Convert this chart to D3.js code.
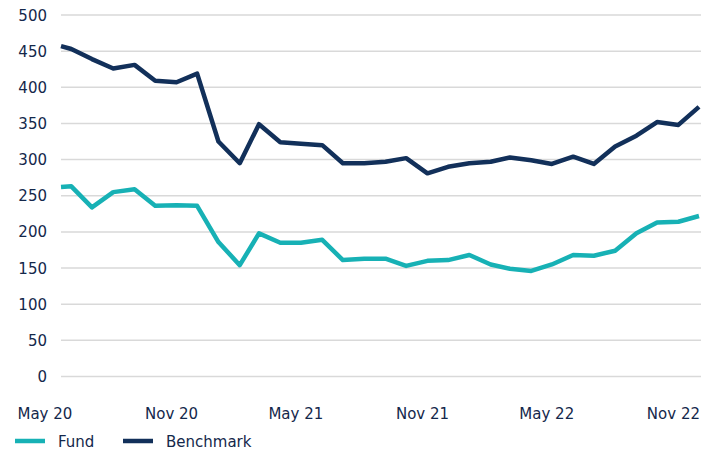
<!DOCTYPE html>
<html>
<head>
<meta charset="utf-8">
<script src="https://cdn.jsdelivr.net/npm/d3@7"></script>
<style>
    body { margin: 0; background: #fff; }
    .drawingboard text { font-family: "DejaVu Sans", sans-serif; font-size: 15px; fill: #14284b; }
</style>
</head>
<body>
<div class="drawingboard"></div>
<script>
// first point is the launch date, then month ends May 20 .. Nov 22
var dates = [new Date(2020, 4, 16)];
for (var k = 0; k <= 30; k++) dates.push(new Date(2020, 5 + k, 0));

var benchmark = [457, 453, 439, 426, 431, 409, 407, 419, 325, 295, 349, 324, 322, 320, 295, 295,
    297, 302, 281, 290, 295, 297, 303, 299, 294, 304, 294, 318, 333, 352, 348, 373];
var fund = [262, 263, 234, 255, 259, 236, 237, 236, 186, 154, 198, 185, 185, 189, 161, 163,
    163, 153, 160, 161, 168, 155, 149, 146, 155, 168, 167, 174, 198, 213, 214, 222];

var yTicks = [0, 50, 100, 150, 200, 250, 300, 350, 400, 450, 500];
var xTickDates = [new Date(2020, 5, 0), new Date(2020, 11, 0), new Date(2021, 5, 0),
    new Date(2021, 11, 0), new Date(2022, 5, 0), new Date(2022, 11, 0)];
var xTickLabels = ["May 20", "Nov 20", "May 21", "Nov 21", "May 22", "Nov 22"];

var seriesNames = ["Fund", "Benchmark"];
var colors = ["#17b1b5", "#12305a"];

var width = 713;
var height = 453;

var svg = d3.select(".drawingboard")
    .append("svg")
    .attr("width", width)
    .attr("height", height);

var x = d3.scaleTime()
    .domain([dates[0], dates[dates.length - 1]])
    .range([61, 699]);

var y = d3.scaleLinear()
    .domain([0, 500])
    .range([376.5, 15]);

// gridlines + y labels
svg.append("g")
    .selectAll("line")
    .data(yTicks)
    .enter().append("line")
    .attr("x1", 61)
    .attr("x2", 701)
    .attr("y1", function (d) { return y(d); })
    .attr("y2", function (d) { return y(d); })
    .style("stroke", "#d9d9d9")
    .style("stroke-width", 1.5);

svg.append("g")
    .selectAll("text")
    .data(yTicks)
    .enter().append("text")
    .attr("x", 47)
    .attr("y", function (d) { return y(d); })
    .attr("dy", 5.5)
    .style("text-anchor", "end")
    .text(function (d) { return d; });

// x labels sit right-aligned on their month-end point
svg.append("g")
    .selectAll("text")
    .data(xTickDates)
    .enter().append("text")
    .attr("x", function (d) { return x(d) + 1; })
    .attr("y", 419)
    .style("text-anchor", "end")
    .text(function (d, i) { return xTickLabels[i]; });

var line = d3.line()
    .x(function (d, i) { return x(dates[i]); })
    .y(function (d) { return y(d); });

[fund, benchmark].forEach(function (values, i) {
    svg.append("path")
        .datum(values)
        .attr("d", line)
        .style("fill", "none")
        .style("stroke", colors[i])
        .style("stroke-width", 4.5)
        .style("stroke-linejoin", "round");
});

// legend
var legendX = [15, 123];
var legend = svg.append("g")
    .selectAll("g")
    .data(seriesNames)
    .enter().append("g")
    .attr("transform", function (d, i) { return "translate(" + legendX[i] + ",441)"; });

legend.append("line")
    .attr("x2", 30)
    .style("stroke", function (d, i) { return colors[i]; })
    .style("stroke-width", 4.5);

legend.append("text")
    .attr("x", 43)
    .attr("dy", 5.5)
    .text(function (d) { return d; });
</script>
</body>
</html>
